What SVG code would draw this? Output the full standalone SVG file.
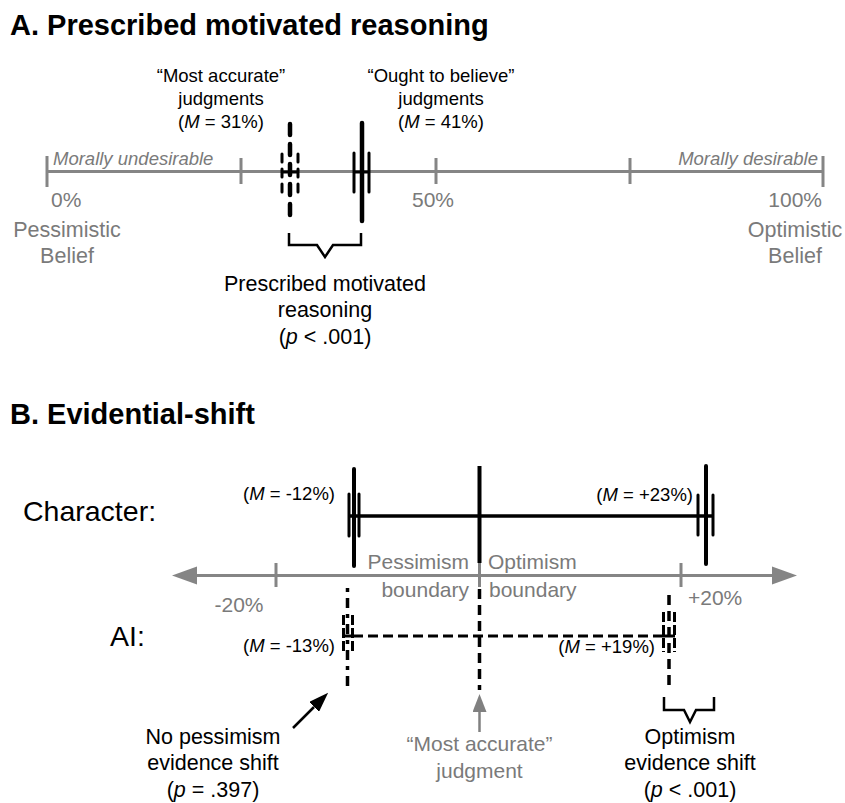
<svg xmlns="http://www.w3.org/2000/svg" width="845" height="803" viewBox="0 0 845 803">
<style>
text{font-family:"Liberation Sans",Arial,Helvetica,sans-serif}
.title{font-weight:bold;font-size:29px;fill:#000}
.lab{font-size:18.5px;fill:#000}
.big{font-size:21.5px;fill:#000}
.gt{font-size:21px;fill:#7a7a7a}
.gi{font-size:18.5px;font-style:italic;fill:#7a7a7a}
.row{font-size:28.5px;fill:#000}
.ax{stroke:#858585;stroke-width:3;fill:none}
.blk{stroke:#000;fill:none}
.it{font-style:italic}
</style>
<defs>
<marker id="hBlack" markerUnits="userSpaceOnUse" markerWidth="20" markerHeight="14" refX="0" refY="7" orient="auto"><path d="M0,0 L20,7 L0,14 z" fill="#000"/></marker>
<marker id="hGray" markerUnits="userSpaceOnUse" markerWidth="18" markerHeight="14" refX="0" refY="7" orient="auto"><path d="M0,0 L18,7 L0,14 z" fill="#808080"/></marker>
</defs>

<!-- Panel A -->
<g id="titleA"><text class="title" x="10" y="35">A. Prescribed motivated reasoning</text></g>

<g id="axisA">
<line class="ax" x1="47" y1="171.5" x2="823" y2="171.5"/>
<line class="ax" x1="47" y1="156" x2="47" y2="187"/>
<line class="ax" x1="241" y1="158" x2="241" y2="184"/>
<line class="ax" x1="436" y1="158" x2="436" y2="184"/>
<line class="ax" x1="630" y1="158" x2="630" y2="184"/>
<line class="ax" x1="823" y1="156" x2="823" y2="187"/>
<text class="gi" x="53" y="165">Morally undesirable</text>
<text class="gi" x="818" y="165" text-anchor="end">Morally desirable</text>
<text class="gt" x="51" y="207">0%</text>
<text class="gt" x="433" y="207" text-anchor="middle">50%</text>
<text class="gt" x="822" y="207" text-anchor="end">100%</text>
<text class="gt" x="67" y="237" text-anchor="middle" style="font-size:21.5px">Pessimistic</text>
<text class="gt" x="67" y="263" text-anchor="middle" style="font-size:21.5px">Belief</text>
<text class="gt" x="795" y="237" text-anchor="middle" style="font-size:21.5px">Optimistic</text>
<text class="gt" x="795" y="263" text-anchor="middle" style="font-size:21.5px">Belief</text>
</g>

<g id="accurateA">
<line class="blk" x1="281" y1="172" x2="299" y2="172" stroke-width="3"/>
<line class="blk" x1="290" y1="124" x2="290" y2="222" stroke-width="4.5" stroke-linecap="round" stroke-dasharray="11 9"/>
<line class="blk" x1="282" y1="154" x2="282" y2="192" stroke-width="3" stroke-linecap="round" stroke-dasharray="8 7"/>
<line class="blk" x1="298" y1="154" x2="298" y2="192" stroke-width="3" stroke-linecap="round" stroke-dasharray="8 7"/>
<text class="lab" x="221" y="82" text-anchor="middle">“Most accurate”</text>
<text class="lab" x="221" y="105" text-anchor="middle">judgments</text>
<text class="lab" x="221" y="128" text-anchor="middle">(<tspan class="it">M</tspan> = 31%)</text>
</g>

<g id="oughtA">
<line class="blk" x1="353" y1="172" x2="370" y2="172" stroke-width="3"/>
<line class="blk" x1="362" y1="123" x2="362" y2="221" stroke-width="4.5" stroke-linecap="round"/>
<line class="blk" x1="354" y1="153" x2="354" y2="192" stroke-width="3" stroke-linecap="round"/>
<line class="blk" x1="369" y1="153" x2="369" y2="192" stroke-width="3" stroke-linecap="round"/>
<text class="lab" x="441" y="82" text-anchor="middle">“Ought to believe”</text>
<text class="lab" x="441" y="105" text-anchor="middle">judgments</text>
<text class="lab" x="441" y="128" text-anchor="middle">(<tspan class="it">M</tspan> = 41%)</text>
</g>

<g id="braceA">
<path class="blk" stroke-width="2.5" d="M289,233 V245 H317 L325,257 L333,245 H361 V233"/>
<text class="big" x="325" y="291" text-anchor="middle">Prescribed motivated</text>
<text class="big" x="325" y="317" text-anchor="middle">reasoning</text>
<text class="big" x="325" y="344" text-anchor="middle">(<tspan class="it">p</tspan> &lt; .001)</text>
</g>

<!-- Panel B -->
<g id="titleB"><text class="title" x="10" y="424">B. Evidential-shift</text></g>

<g id="axisB">
<line class="ax" x1="190" y1="575.5" x2="778" y2="575.5"/>
<polygon points="172,575.5 197,566.5 197,584.5" fill="#858585"/>
<polygon points="797,575.5 772,566.5 772,584.5" fill="#858585"/>
<line class="ax" x1="276" y1="563" x2="276" y2="587"/>
<line class="ax" x1="479.5" y1="563" x2="479.5" y2="587"/>
<line class="ax" x1="681" y1="563" x2="681" y2="587"/>
<text class="gt" x="239" y="612" text-anchor="middle">-20%</text>
<text class="gt" x="688" y="605">+20%</text>
<text class="gt" x="469" y="569" text-anchor="end">Pessimism</text>
<text class="gt" x="469" y="597" text-anchor="end">boundary</text>
<text class="gt" x="488" y="569">Optimism</text>
<text class="gt" x="489" y="597">boundary</text>
</g>

<g id="characterRow">
<text class="row" x="23" y="521">Character:</text>
<line class="blk" x1="348" y1="516" x2="713" y2="516" stroke-width="3.5"/>
<line class="blk" x1="479.5" y1="466" x2="479.5" y2="563" stroke-width="4"/>
<line class="blk" x1="354" y1="469" x2="354" y2="566" stroke-width="4" stroke-linecap="round"/>
<line class="blk" x1="349" y1="494" x2="349" y2="536" stroke-width="3" stroke-linecap="round"/>
<line class="blk" x1="359" y1="494" x2="359" y2="536" stroke-width="3" stroke-linecap="round"/>
<line class="blk" x1="706" y1="466" x2="706" y2="564" stroke-width="4" stroke-linecap="round"/>
<line class="blk" x1="698" y1="495" x2="698" y2="535" stroke-width="3" stroke-linecap="round"/>
<line class="blk" x1="713" y1="495" x2="713" y2="535" stroke-width="3" stroke-linecap="round"/>
<text class="lab" x="335" y="500" text-anchor="end">(<tspan class="it">M</tspan> = -12%)</text>
<text class="lab" x="693" y="501" text-anchor="end">(<tspan class="it">M</tspan> = +23%)</text>
</g>

<g id="aiRow">
<text class="row" x="110" y="646">AI:</text>
<line class="blk" x1="353" y1="636" x2="664" y2="636" stroke-width="3" stroke-dasharray="10 5"/>
<line class="blk" x1="479.5" y1="589" x2="479.5" y2="690" stroke-width="3.5" stroke-dasharray="10 6"/>
<line class="blk" x1="343" y1="636" x2="353" y2="636" stroke-width="3"/>
<line class="blk" x1="347.5" y1="588" x2="347.5" y2="690" stroke-width="3.5" stroke-dasharray="4 6 10 6"/>
<line class="blk" x1="343.5" y1="615" x2="343.5" y2="653" stroke-width="3" stroke-dasharray="10 3"/>
<line class="blk" x1="352.5" y1="615" x2="352.5" y2="653" stroke-width="3" stroke-dasharray="10 3"/>
<line class="blk" x1="663" y1="636" x2="675" y2="636" stroke-width="3"/>
<line class="blk" x1="669" y1="595" x2="669" y2="686" stroke-width="3.5" stroke-dasharray="10 6"/>
<line class="blk" x1="663.5" y1="612" x2="663.5" y2="652" stroke-width="3" stroke-dasharray="10 3"/>
<line class="blk" x1="674.5" y1="612" x2="674.5" y2="652" stroke-width="3" stroke-dasharray="10 3"/>
<text class="lab" x="335" y="652" text-anchor="end">(<tspan class="it">M</tspan> = -13%)</text>
<text class="lab" x="655" y="653" text-anchor="end">(<tspan class="it">M</tspan> = +19%)</text>
</g>

<g id="connectors">
<line class="blk" x1="293" y1="728" x2="314" y2="707" stroke-width="2.5" marker-end="url(#hBlack)"/>
<line x1="479.5" y1="732" x2="479.5" y2="712" stroke="#808080" stroke-width="2.5" marker-end="url(#hGray)"/>
</g>

<g id="noPessimism">
<text class="big" x="213" y="744" text-anchor="middle">No pessimism</text>
<text class="big" x="213" y="770" text-anchor="middle">evidence shift</text>
<text class="big" x="213" y="797" text-anchor="middle">(<tspan class="it">p</tspan> = .397)</text>
</g>

<g id="mostAccurateB">
<text class="gt" x="479.5" y="751" text-anchor="middle">“Most accurate”</text>
<text class="gt" x="479.5" y="778" text-anchor="middle">judgment</text>
</g>

<g id="optimismShift">
<path class="blk" stroke-width="2.5" d="M664,697 V710 H684 L690,722 L696,710 H714 V697"/>
<text class="big" x="690" y="744" text-anchor="middle">Optimism</text>
<text class="big" x="690" y="770" text-anchor="middle">evidence shift</text>
<text class="big" x="690" y="797" text-anchor="middle">(<tspan class="it">p</tspan> &lt; .001)</text>
</g>
</svg>
